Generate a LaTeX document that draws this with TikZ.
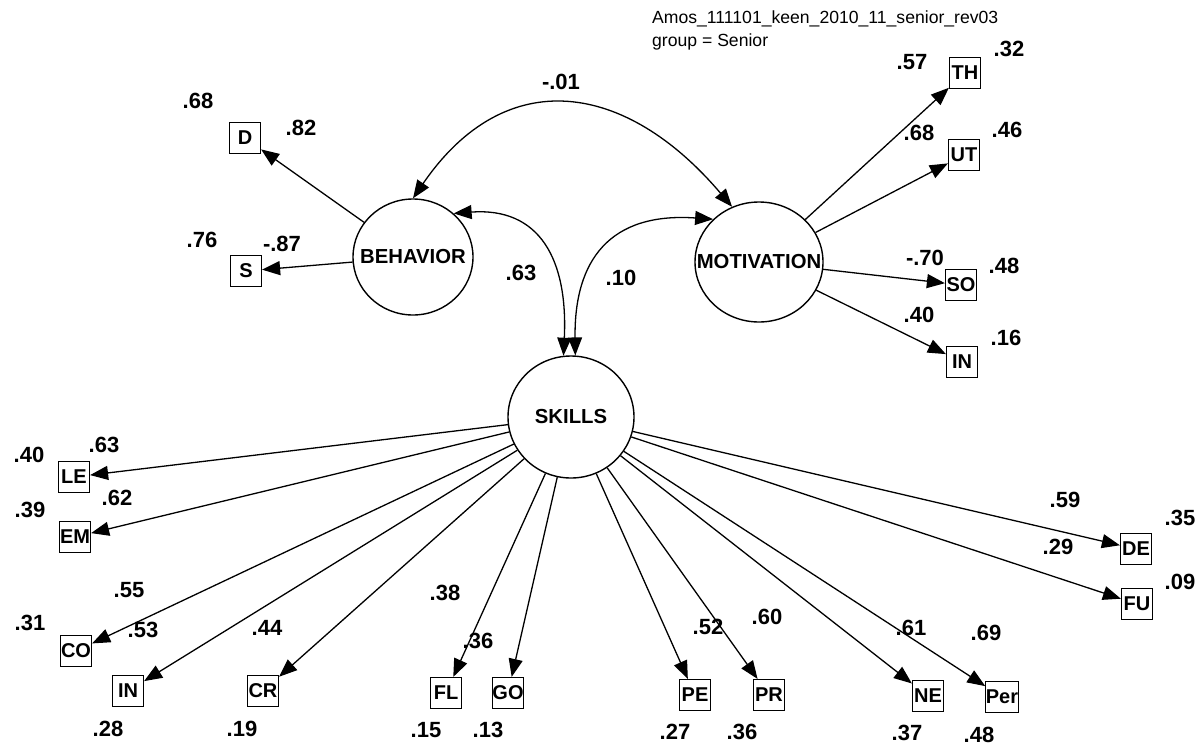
\documentclass[tikz,border=0pt]{standalone}
\usepackage{fontspec}
\setmainfont{Liberation Sans}
\usetikzlibrary{arrows.meta,shapes.geometric}
\begin{document}
\begin{tikzpicture}[x=1pt,y=-1pt,
  lat/.style={ellipse,draw,line width=1.4pt,inner sep=0pt},
  lattext/.style={inner sep=0pt,font=\bfseries\fontsize{20.3}{24}\selectfont},
  obs/.style={rectangle,draw,line width=1.2pt,minimum width=31pt,minimum height=31pt,inner sep=0pt,font=\bfseries\fontsize{20}{24}\selectfont},
  num/.style={inner sep=0pt,font=\bfseries\fontsize{22}{26}\selectfont},
  hdr/.style={inner sep=0pt,anchor=base west,font=\fontsize{17.6}{21}\selectfont},
  arr/.style={line width=1.3pt,-{Triangle[length=18pt,width=14pt]}},
  darr/.style={line width=1.3pt,{Triangle[length=18pt,width=14pt]}-{Triangle[length=18pt,width=14pt]}}]
\useasboundingbox (0,0) rectangle (1199,745);
\fill[white] (0,0) rectangle (1199,745);

% header
\node[hdr] (h1) at (652,23) {Amos\_111101\_keen\_2010\_11\_senior\_rev03};
\node[hdr] (h2) at (652,46) {group = Senior};

% latent variables
\node[lat,minimum width=120pt,minimum height=116pt] (beh) at (413,257) {};
\node[lattext] (behT) at (beh.center) {BEHAVIOR};
\node[lat,minimum width=128pt,minimum height=120pt] (mot) at (759,262) {};
\node[lattext] (motT) at (mot.center) {MOTIVATION};
\node[lat,minimum width=126pt,minimum height=122pt] (sk) at (571,417) {};
\node[lattext] (skT) at (sk.center) {SKILLS};

% observed variables
\node[obs] (D) at (245,138) {D};
\node[obs] (S) at (246,271) {S};
\node[obs] (TH) at (965,73) {TH};
\node[obs] (UT) at (964,155) {UT};
\node[obs] (SO) at (961,285) {SO};
\node[obs] (INm) at (962,362) {IN};
\node[obs] (LE) at (74,477) {LE};
\node[obs] (EM) at (75,537) {EM};
\node[obs] (CO) at (76,651) {CO};
\node[obs] (INs) at (128,691) {IN};
\node[obs] (CR) at (263,691) {CR};
\node[obs] (FL) at (446,693) {FL};
\node[obs] (GO) at (508,693) {GO};
\node[obs] (PE) at (695,695) {PE};
\node[obs] (PR) at (769,695) {PR};
\node[obs] (NE) at (928,696) {NE};
\node[obs] (Per) at (1002,697) {Per};
\node[obs] (DE) at (1136,549) {DE};
\node[obs] (FU) at (1137,604) {FU};

% loadings
\draw[arr] (beh) -- (D);
\draw[arr] (beh) -- (S);
\draw[arr] (mot) -- (TH);
\draw[arr] (mot) -- (UT);
\draw[arr] (mot) -- (SO);
\draw[arr] (mot) -- (INm);
\foreach \t in {LE,EM,CO,INs,CR,FL,GO,PE,PR,NE,Per,DE,FU}
  \draw[arr] (sk) -- (\t);

% covariances
\draw[darr] (beh.north) .. controls (505.7,62.9) and (625.9,81.6) .. (mot.116.6);
\draw[darr] (beh.47) .. controls (540,207) and (568,260) .. (sk.97.6);
\draw[darr] (sk.86) .. controls (574,260) and (610,212) .. (mot.137.6);

% numbers
\node[num] (n1) at (198,101) {.68};
\node[num] (n2) at (301,128) {.82};
\node[num] (n3) at (202,240) {.76};
\node[num] (n4) at (282,244) {-.87};
\node[num] (n5) at (561,82) {-.01};
\node[num] (n6) at (521,273) {.63};
\node[num] (n7) at (621,278) {.10};
\node[num] (n8) at (912,62) {.57};
\node[num] (n9) at (1009,49) {.32};
\node[num] (n10) at (919,133) {.68};
\node[num] (n11) at (1007,130) {.46};
\node[num] (n12) at (925,258) {-.70};
\node[num] (n13) at (1004,266) {.48};
\node[num] (n14) at (919,315) {.40};
\node[num] (n15) at (1006,338) {.16};
\node[num] (n16) at (29,455) {.40};
\node[num] (n17) at (104,445) {.63};
\node[num] (n18) at (30,510) {.39};
\node[num] (n19) at (117,498) {.62};
\node[num] (n20) at (129,590) {.55};
\node[num] (n21) at (30,623) {.31};
\node[num] (n22) at (143,630) {.53};
\node[num] (n23) at (267,628) {.44};
\node[num] (n24) at (108,729) {.28};
\node[num] (n25) at (242,729) {.19};
\node[num] (n26) at (445,593) {.38};
\node[num] (n27) at (478,641) {.36};
\node[num] (n28) at (426,730) {.15};
\node[num] (n29) at (488,730) {.13};
\node[num] (n30) at (708,627) {.52};
\node[num] (n31) at (767,617) {.60};
\node[num] (n32) at (675,732) {.27};
\node[num] (n33) at (742,732) {.36};
\node[num] (n34) at (911,628) {.61};
\node[num] (n35) at (986,633) {.69};
\node[num] (n36) at (907,733) {.37};
\node[num] (n37) at (979,735) {.48};
\node[num] (n38) at (1065,500) {.59};
\node[num] (n39) at (1180,518) {.35};
\node[num] (n40) at (1058,547) {.29};
\node[num] (n41) at (1180,582) {.09};
\end{tikzpicture}
\end{document}
